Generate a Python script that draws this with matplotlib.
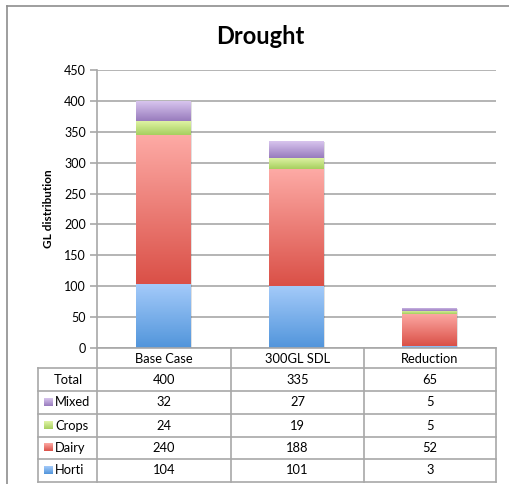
import numpy as np
import matplotlib
matplotlib.use("Agg")
import matplotlib.pyplot as plt
from matplotlib.patches import Rectangle
from matplotlib.lines import Line2D

plt.rcParams["font.family"] = ["Lato", "DejaVu Sans"]

categories = ["Base Case", "300GL SDL", "Reduction"]
series = ["Horti", "Dairy", "Crops", "Mixed"]  # stacking order, bottom first
horti = [104, 101, 3]
dairy = [240, 188, 52]
crops = [24, 19, 5]
mixed = [32, 27, 5]
totals = [400, 335, 65]
yticks = [0, 50, 100, 150, 200, 250, 300, 350, 400, 450]

# gradient colours, (top, bottom)
grad_cols = {
    "Horti": ("#a5cbfa", "#5195db"),
    "Dairy": ("#fdaaa5", "#da5047"),
    "Crops": ("#e2f5a8", "#a6cf5e"),
    "Mixed": ("#d8c5ee", "#987bbd"),
}

W, H = 509, 484
fig = plt.figure(figsize=(W / 100, H / 100), dpi=100)


def fbox(x0, y0, x1, y1):
    # pixel box (top-left origin) -> figure rect
    return [x0 / W, 1 - y1 / H, (x1 - x0) / W, (y1 - y0) / H]


def to_rgb(c):
    return np.array(matplotlib.colors.to_rgb(c))


def gradient(top, bottom, n=128):
    t = np.linspace(0, 1, n)[:, None, None]
    return to_rgb(top)[None, None, :] * (1 - t) + to_rgb(bottom)[None, None, :] * t


grid_c = "#a8a8a8"

# outer chart border
fig.add_artist(Line2D([7 / W, 7 / W], [0, 1 - 6 / H], color="#8e8e8e", lw=1.2))
fig.add_artist(Line2D([7 / W, 1], [1 - 6 / H, 1 - 6 / H], color="#8e8e8e", lw=1.2))

fig.text(260 / W, 1 - 37 / H, "Drought", ha="center", va="center",
         fontsize=17, fontweight="bold")

ax = fig.add_axes(fbox(97, 70, 496, 348))
x = np.arange(len(categories))
data = {"Horti": horti, "Dairy": dairy, "Crops": crops, "Mixed": mixed}
bottom = np.zeros(len(categories))
for name in series:
    vals = np.array(data[name], dtype=float)
    bars = ax.bar(x, vals, 0.41, bottom=bottom, color="none", lw=0, zorder=3)
    top_c, bot_c = grad_cols[name]
    for b in bars:
        bx, by = b.get_x(), b.get_y()
        bw, bh = b.get_width(), b.get_height()
        if bh <= 0:
            continue
        im = ax.imshow(gradient(top_c, bot_c), extent=(bx, bx + bw, by, by + bh),
                       aspect="auto", origin="upper", zorder=3, interpolation="bilinear")
        im.set_clip_path(b)
    bottom += vals

# soft shadow on right side of each bar stack
for i, t in enumerate(totals):
    ax.add_patch(Rectangle((x[i] + 0.205, 0), 0.012, t - 2, color="#000000",
                           alpha=0.12, lw=0, zorder=2))

ax.set_xlim(-0.5, 2.5)
ax.set_ylim(0, 450)
ax.set_yticks(yticks)
ax.set_xticks([])
ax.yaxis.grid(True, color=grid_c, lw=1.2)
ax.set_axisbelow(True)
for s in ["top", "right", "bottom"]:
    ax.spines[s].set_visible(False)
ax.spines["left"].set_color(grid_c)
ax.spines["left"].set_linewidth(1.2)
ax.tick_params(axis="y", direction="out", length=5, color=grid_c, width=1.2,
               labelsize=9, pad=3)
ax.set_ylabel("GL distribution", fontsize=8.5, fontweight="bold", labelpad=7)

# data table
tab = fig.add_axes(fbox(38, 348, 496, 482))
tab.set_xlim(38, 496)
tab.set_ylim(482, 348)
tab.axis("off")
col_edges = [38, 97, 231, 364, 496]
row_edges = [348, 368, 391, 414, 437, 459, 482]
lk = dict(color=grid_c, lw=1.2, clip_on=False)
tab.plot([97, 496], [348, 348], **lk)
for yy in row_edges[1:]:
    tab.plot([38, 496], [yy, yy], **lk)
tab.plot([38, 38], [368, 482], **lk)
for xx in col_edges[1:]:
    tab.plot([xx, xx], [348, 482], **lk)

fs = 9.3
for j, c in enumerate(categories):
    cx = (col_edges[j + 1] + col_edges[j + 2]) / 2
    tab.text(cx, (row_edges[0] + row_edges[1]) / 2 + 1, c, ha="center", va="center", fontsize=fs)

rows = [("Total", totals, None)] + [(n, data[n], grad_cols[n]) for n in reversed(series)]
for i, (label, vals, cols) in enumerate(rows):
    cy = (row_edges[i + 1] + row_edges[i + 2]) / 2
    if cols is None:
        tab.text(68, cy, label, ha="center", va="center", fontsize=fs)
    else:
        tab.imshow(gradient(cols[0], cols[1]), extent=(44, 53, cy + 3.5, cy - 4.5),
                   aspect="auto", origin="upper", clip_on=False, interpolation="bilinear")
        tab.text(55, cy, label, ha="left", va="center", fontsize=fs)
    for j, v in enumerate(vals):
        cx = (col_edges[j + 1] + col_edges[j + 2]) / 2
        tab.text(cx, cy, str(v), ha="center", va="center", fontsize=fs)
tab.set_xlim(38, 496)
tab.set_ylim(482, 348)

fig.savefig("out.png", dpi=100)
